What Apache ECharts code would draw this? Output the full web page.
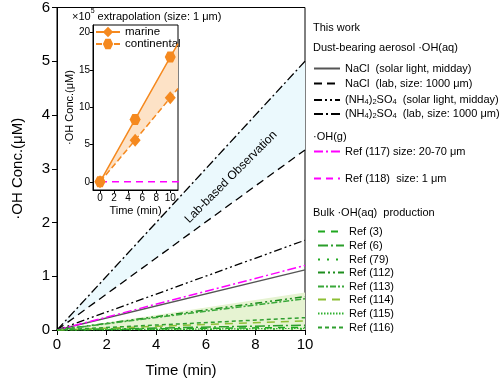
<!DOCTYPE html>
<html><head><meta charset="utf-8">
<script src="https://cdn.jsdelivr.net/npm/echarts@6/dist/echarts.min.js"></script>
<style>html,body{margin:0;padding:0;background:#fff}#c{width:500px;height:383px}</style>
</head><body><div id="c"></div>
<script>
// ---- main chart data (time in min, ·OH conc in µM) ----
const times = [0, 10];
const naclSolarVals = [0, 1.12];
const naclLabVals = [0, 3.35];
const nh4SolarVals = [0, 1.67];
const nh4LabVals = [0, 5.0];
const ref117Vals = [0, 1.2];
const ref3Vals = [0, 0.05];
const ref6Vals = [0, 0.09];
const ref79Vals = [0, 0.02];
const ref112Vals = [0, 0.62];
const ref113Vals = [0, 0.58];
const ref114Vals = [0, 0.17];
const ref115Vals = [0, 0.03];
const ref116Vals = [0, 0.23];
const bulkBandTop = [0, 0.70];
const bulkBandBottom = [0, 0];
const xTicks = [0, 2, 4, 6, 8, 10];
const yTicks = [0, 1, 2, 3, 4, 5, 6];

// ---- inset data (×10^5 extrapolation) ----
const insetTimes = [0, 5, 10, 11.1];
const insetUpperVals = [0, 8.35, 16.7, 18.5];
const insetLowerVals = [0, 5.58, 11.25, 12.5];
const ref118Times = [0, 12];
const ref118Vals = [0, 0];
const insetXTicks = [0, 2, 4, 6, 8, 10];
const insetYTicks = [0, 5, 10, 15, 20];

const FONT = 'Liberation Sans, Arial, sans-serif';
const pairs = (xs, ys) => xs.map((x, i) => [x, ys[i]]);

const mainLine = (name, vals, color, type, width) => ({
  name, type: 'line', xAxisIndex: 0, yAxisIndex: 0, data: pairs(times, vals),
  symbol: 'none', z: 5, silent: true,
  lineStyle: { color, type, width: width || 1.3 }, itemStyle: { color }
});

// filled band between two curves, drawn through the axes' scales
const band = (xs, lower, upper, color, axisIdx, z) => ({
  type: 'custom', xAxisIndex: axisIdx, yAxisIndex: axisIdx, z, silent: true,
  data: xs.map((x, i) => [x, lower[i], upper[i]]),
  encode: { x: 0, y: [1, 2] },
  renderItem: (params, api) => {
    if (params.dataIndex !== 0) return null;
    const pts = xs.map((x, i) => api.coord([x, upper[i]]))
      .concat(xs.map((x, i) => api.coord([x, lower[i]])).reverse());
    return { type: 'polygon', shape: { points: pts }, style: { fill: color, stroke: null } };
  }
});

const hexPath = 'path://M-1,0 L-0.5,-0.866 L0.5,-0.866 L1,0 L0.5,0.866 L-0.5,0.866 Z';
const orange = '#f5891f';

const series = [
  band(times, naclLabVals, nh4LabVals, '#ebf9fd', 0, 1),
  band(times, bulkBandBottom, bulkBandTop, '#e6f3d2', 0, 2),
  mainLine('NaCl solar', naclSolarVals, '#555555', 'solid', 1.3),
  mainLine('NaCl lab', naclLabVals, '#000000', [8, 5], 1.3),
  mainLine('NH4 solar', nh4SolarVals, '#000000', [8, 3, 2, 3, 2, 3], 1.3),
  mainLine('NH4 lab', nh4LabVals, '#000000', [9, 3, 2, 3], 1.3),
  mainLine('Ref (117) size: 20-70 μm', ref117Vals, '#ff00ff', [9, 3, 2, 3], 1.5),
  mainLine('Ref (3)', ref3Vals, '#1fa81f', [7, 6], 1.5),
  mainLine('Ref (6)', ref6Vals, '#2b9e2b', [10, 3, 2, 3], 1.5),
  mainLine('Ref (79)', ref79Vals, '#22aa22', [2, 7], 1.5),
  mainLine('Ref (112)', ref112Vals, '#1e8e1e', [7, 3, 2, 3, 2, 3], 1.5),
  mainLine('Ref (113)', ref113Vals, '#3aa83a', [6, 2, 2, 2], 1.5),
  mainLine('Ref (114)', ref114Vals, '#8dbf35', [8, 6], 1.5),
  mainLine('Ref (115)', ref115Vals, '#2fb02f', [1.5, 1.5], 1.2),
  mainLine('Ref (116)', ref116Vals, '#2f9f2f', [4, 3], 1.5),
  // inset
  band(insetTimes, insetLowerVals, insetUpperVals, '#fde2c6', 1, 1),
  { name: 'Ref (118)  size: 1 μm', type: 'line', xAxisIndex: 1, yAxisIndex: 1, symbol: 'none',
    data: pairs(ref118Times, ref118Vals), lineStyle: { color: '#ff00ff', type: [7, 5], width: 1.5 },
    itemStyle: { color: '#ff00ff' }, silent: true, z: 3 },
  { name: 'upperInset', type: 'line', xAxisIndex: 1, yAxisIndex: 1, silent: true, z: 4,
    data: insetTimes.map((t, i) => ({ value: [t, insetUpperVals[i]], symbol: i < 3 ? hexPath : 'none' })),
    symbol: hexPath, symbolSize: 11, lineStyle: { color: orange, width: 1.5 }, itemStyle: { color: orange } },
  { name: 'lowerInset', type: 'line', xAxisIndex: 1, yAxisIndex: 1, silent: true, z: 4,
    data: insetTimes.map((t, i) => ({ value: [t, insetLowerVals[i]], symbol: i < 3 ? 'diamond' : 'none' })),
    symbol: 'diamond', symbolSize: [11, 13], lineStyle: { color: orange, width: 1.5, type: [6, 3] }, itemStyle: { color: orange } },
  // legend-only series for the inset
  { name: 'marine', type: 'line', xAxisIndex: 1, yAxisIndex: 1, data: [], symbol: 'diamond',
    lineStyle: { color: orange, width: 1.5 }, itemStyle: { color: orange } },
  { name: 'continental', type: 'line', xAxisIndex: 1, yAxisIndex: 1, data: [], symbol: hexPath,
    lineStyle: { color: orange, width: 1.5, type: [6, 3] }, itemStyle: { color: orange } }
];

const legendItems = [
  { name: 'NaCl solar', label: '{n|NaCl  (solar light, midday)}', y: 69, x: 313 },
  { name: 'NaCl lab', label: '{n|NaCl  (lab, size: 1000 μm)}', y: 84, x: 313 },
  { name: 'NH4 solar', label: '{n|(NH}{s|4}{n|)}{s|2}{n|SO}{s|4}{n|  (solar light, midday)}', y: 99, x: 313 },
  { name: 'NH4 lab', label: '{n|(NH}{s|4}{n|)}{s|2}{n|SO}{s|4}{n|  (lab, size: 1000 μm)}', y: 113, x: 313 },
  { name: 'Ref (117) size: 20-70 μm', label: '{n|Ref (117) size: 20-70 μm}', y: 152, x: 313 },
  { name: 'Ref (118)  size: 1 μm', label: '{n|Ref (118)  size: 1 μm}', y: 179, x: 313 },
  { name: 'Ref (3)', label: '{n|Ref (3)}', y: 232, x: 317 },
  { name: 'Ref (6)', label: '{n|Ref (6)}', y: 246, x: 317 },
  { name: 'Ref (79)', label: '{n|Ref (79)}', y: 260, x: 317 },
  { name: 'Ref (112)', label: '{n|Ref (112)}', y: 273, x: 317 },
  { name: 'Ref (113)', label: '{n|Ref (113)}', y: 287, x: 317 },
  { name: 'Ref (114)', label: '{n|Ref (114)}', y: 300, x: 317 },
  { name: 'Ref (115)', label: '{n|Ref (115)}', y: 314, x: 317 },
  { name: 'Ref (116)', label: '{n|Ref (116)}', y: 328, x: 317 }
];
const legends = legendItems.map(it => ({
  data: [it.name], left: it.x, top: it.y - 6, padding: 0, orient: 'vertical',
  itemWidth: 26, itemHeight: 12, selectedMode: false,
  itemStyle: { color: 'rgba(0,0,0,0)', borderWidth: 0, opacity: 0 },
  formatter: () => it.label,
  textStyle: { rich: {
    n: { fontFamily: FONT, fontSize: 11, color: '#000', lineHeight: 12 },
    s: { fontFamily: FONT, fontSize: 7.5, color: '#000', lineHeight: 8, verticalAlign: 'bottom', padding: [5, 0, 0, 0] }
  } }
}));
legends.push({
  data: ['marine', 'continental'], left: 95, top: 26, padding: 0, orient: 'vertical',
  itemWidth: 24, itemHeight: 13, itemGap: 0, selectedMode: false,
  textStyle: { fontFamily: FONT, fontSize: 11.5, color: '#000' }
});

const headings = [
  { text: 'This work', x: 313, y: 29 },
  { text: 'Dust-bearing aerosol ·OH(aq)', x: 313, y: 49 },
  { text: '·OH(g)', x: 313, y: 138 },
  { text: 'Bulk ·OH(aq)  production', x: 313, y: 214 }
];

const option = {
  animation: false,
  backgroundColor: '#fff',
  textStyle: { fontFamily: FONT },
  grid: [
    { left: 57, top: 6, width: 248, height: 326, show: true, borderColor: '#000', borderWidth: 1, backgroundColor: 'transparent' },
    { left: 93, top: 25, width: 85, height: 165, show: true, borderColor: '#000', borderWidth: 1, backgroundColor: 'transparent' }
  ],
  xAxis: [
    { gridIndex: 0, type: 'value', min: 0, max: 10, interval: 2,
      name: 'Time (min)', nameLocation: 'middle', nameGap: 33,
      nameTextStyle: { fontFamily: FONT, fontSize: 15, color: '#000' },
      axisLine: { lineStyle: { color: '#000', width: 1 } },
      axisTick: { show: true, inside: false, length: 5, lineStyle: { color: '#000' } },
      axisLabel: { fontFamily: FONT, fontSize: 15, color: '#000', margin: 7, customValues: xTicks },
      splitLine: { show: false } },
    { gridIndex: 1, type: 'value', min: -1, max: 11.1,
      name: 'Time (min)', nameLocation: 'middle', nameGap: 15,
      nameTextStyle: { fontFamily: FONT, fontSize: 11, color: '#000' },
      axisLine: { onZero: false, lineStyle: { color: '#000' } },
      axisTick: { show: true, length: 3, customValues: insetXTicks, lineStyle: { color: '#000' } },
      axisLabel: { fontFamily: FONT, fontSize: 10, color: '#000', margin: 3, customValues: insetXTicks },
      splitLine: { show: false } }
  ],
  yAxis: [
    { gridIndex: 0, type: 'value', min: 0, max: 6, interval: 1,
      name: '·OH Conc.(μM)', nameLocation: 'middle', nameGap: 32, nameRotate: 90,
      nameTextStyle: { fontFamily: FONT, fontSize: 15, color: '#000' },
      axisLine: { show: true, lineStyle: { color: '#000' } },
      axisTick: { show: true, length: 5, lineStyle: { color: '#000' } },
      axisLabel: { fontFamily: FONT, fontSize: 15, color: '#000', margin: 7, customValues: yTicks },
      splitLine: { show: false } },
    { gridIndex: 1, type: 'value', min: -1.1, max: 21,
      name: '·OH Conc.(μM)', nameLocation: 'middle', nameGap: 17, nameRotate: 90,
      nameTextStyle: { fontFamily: FONT, fontSize: 11, color: '#000' },
      axisLine: { show: true, onZero: false, lineStyle: { color: '#000' } },
      axisTick: { show: true, length: 3, customValues: insetYTicks, lineStyle: { color: '#000' } },
      axisLabel: { fontFamily: FONT, fontSize: 10, color: '#000', margin: 3, customValues: insetYTicks },
      splitLine: { show: false } }
  ],
  legend: legends,
  series,
  graphic: [
    ...headings.map(h => ({ type: 'text', left: h.x, top: h.y - 7, z: 10,
      style: { text: h.text, fontFamily: FONT, fontSize: 11, fill: '#000' } })),
    { type: 'text', left: 72, top: 8, z: 10,
      style: { text: '{a|×10}{p|5}{a| extrapolation (size: 1 μm)}', fill: '#000',
        rich: { a: { fontFamily: FONT, fontSize: 11, verticalAlign: 'bottom', lineHeight: 14 },
                p: { fontFamily: FONT, fontSize: 7, verticalAlign: 'top', lineHeight: 14 } } } },
    { type: 'text', x: 231, y: 177, rotation: Math.PI / 4, z: 10,
      style: { text: 'Lab-based Observation', fontFamily: FONT, fontSize: 12, fill: '#000',
        align: 'center', verticalAlign: 'middle' } }
  ]
};
const chart = echarts.init(document.getElementById('c'), null, { renderer: 'canvas' });
chart.setOption(option);
</script></body></html>
